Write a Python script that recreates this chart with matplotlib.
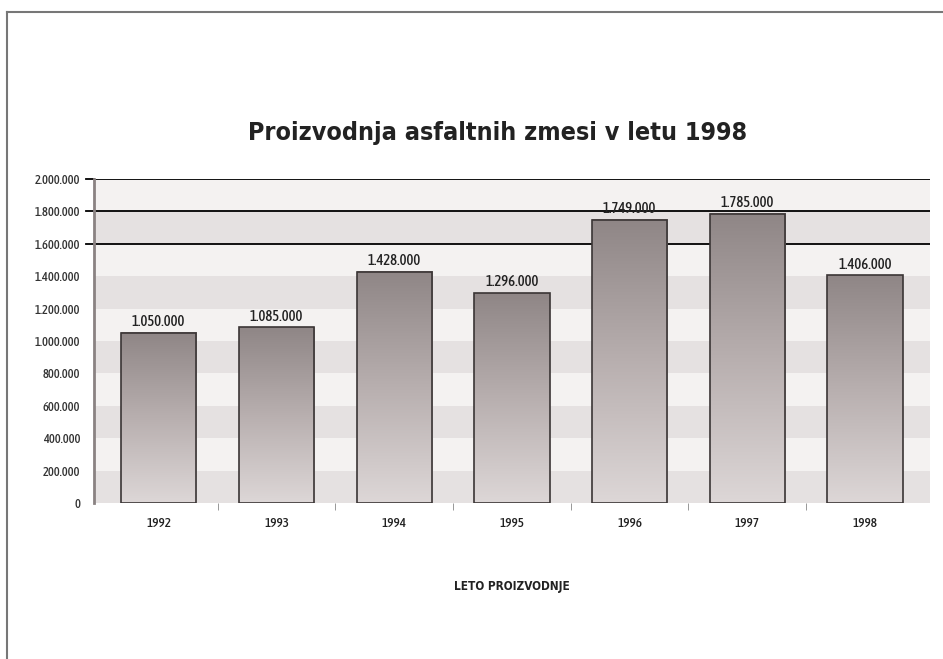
import numpy as np
import matplotlib.pyplot as plt
from matplotlib import font_manager
from matplotlib.font_manager import FontProperties
from matplotlib.lines import Line2D
from matplotlib.colors import LinearSegmentedColormap

years = ["1992", "1993", "1994", "1995", "1996", "1997", "1998"]
values = [1050000, 1085000, 1428000, 1296000, 1749000, 1785000, 1406000]
value_labels = ["1.050.000", "1.085.000", "1.428.000", "1.296.000", "1.749.000", "1.785.000", "1.406.000"]
yticks = [0, 200000, 400000, 600000, 800000, 1000000, 1200000, 1400000, 1600000, 1800000, 2000000]
ytick_labels = ["0", "200.000", "400.000", "600.000", "800.000", "1.000.000", "1.200.000",
                "1.400.000", "1.600.000", "1.800.000", "2.000.000"]
grid_levels = [1600000, 1800000, 2000000]


def wnum(f):
    w = f.weight
    if isinstance(w, str):
        return {'bold': 700, 'normal': 400, 'regular': 400, 'medium': 500,
                'light': 300, 'semibold': 600, 'black': 900}.get(w, 400)
    return w

# look for a narrow font if one is installed
narrow = [f for f in font_manager.fontManager.ttflist
          if ('Narrow' in f.name or 'Condensed' in f.name or f.stretch in ('condensed', 'semi-condensed'))
          and f.style == 'normal']


def pick(target):
    if not narrow:
        return FontProperties(family='DejaVu Sans', weight=target, stretch='condensed')
    best = min(narrow, key=lambda f: abs(wnum(f) - target))
    return FontProperties(fname=best.fname)

bold_fp = pick(700)
reg_fp = pick(500)

fig = plt.figure(figsize=(9.43, 6.59), dpi=100)
ax = fig.add_axes([0.0997, 0.2367, 0.8863, 0.4917])

# frame lines of the figure
fig.add_artist(Line2D([7/943, 1], [1-12/659, 1-12/659], color='#777777', lw=1.5))
fig.add_artist(Line2D([7/943, 7/943], [0, 1-12/659], color='#777777', lw=1.5))

n = len(years)
xmin, xmax = -0.05, n + 0.05

for i in range(len(yticks)-1):
    c = '#e5e1e1' if i % 2 == 0 else '#f4f2f1'
    ax.axhspan(yticks[i], yticks[i+1], color=c, zorder=0, lw=0)

for g in grid_levels:
    ax.axhline(g, color='black', lw=1.3, zorder=1)
    ax.plot([xmin - 0.07, xmin], [g, g], color='black', lw=1.3, clip_on=False, zorder=1)

cmap = LinearSegmentedColormap.from_list('bar', ['#ddd7d7', '#b8afaf', '#8f8686'])
grad = np.linspace(0, 1, 256).reshape(-1, 1)
w = 0.64
for i, v in enumerate(values):
    x0 = i + 0.5 - w/2
    ax.imshow(grad, cmap=cmap, origin='lower', aspect='auto',
              extent=[x0, x0 + w, 0, v], zorder=2)
    ax.add_patch(plt.Rectangle((x0, 0), w, v, fill=False, ec='#3a3535', lw=1.2, zorder=3))
    ax.text(i + 0.5, v + 22000, value_labels[i], ha='center', va='bottom',
            fontproperties=reg_fp, fontsize=10.5, color='#222222', zorder=4)

ax.set_xlim(xmin, xmax)
ax.set_ylim(0, 2000000)

ax.set_yticks(yticks)
ax.set_yticklabels(ytick_labels, fontproperties=reg_fp, fontsize=9, color='#333333')
ax.tick_params(axis='y', length=0, pad=10)
ax.set_xticks(np.arange(n) + 0.5)
ax.set_xticklabels(years, fontproperties=reg_fp, fontsize=9.5, color='#222222')
ax.set_xticks(np.arange(1, n), minor=True)
ax.tick_params(axis='x', which='major', length=0, pad=10)
ax.tick_params(axis='x', which='minor', length=5, color='#888888')

for s in ['top', 'right', 'bottom']:
    ax.spines[s].set_visible(False)
ax.spines['left'].set_color('#8a8282')
ax.spines['left'].set_linewidth(2)

ax.set_xlabel("LETO PROIZVODNJE", fontproperties=bold_fp, fontsize=8.5, color='#222222', labelpad=36)
fig.text(0.528, 1-133/659, "Proizvodnja asfaltnih zmesi v letu 1998", ha='center', va='center',
         fontproperties=bold_fp, fontsize=18, color='#222222')

fig.savefig("out.png", dpi=100)
